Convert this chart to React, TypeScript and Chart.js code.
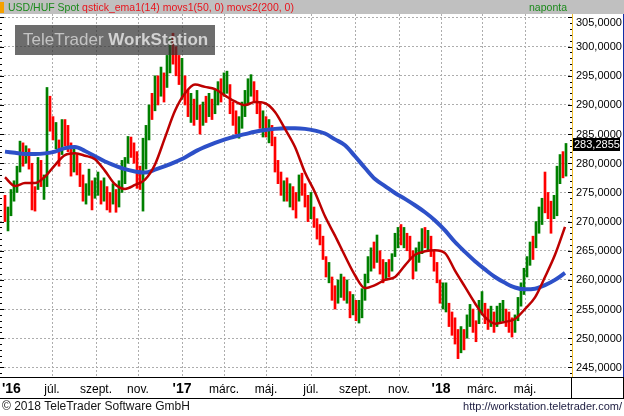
import React, { useEffect, useRef } from 'react';
import { Chart, registerables } from 'chart.js';

Chart.register(...registerables);

// ---------- data (x unit = trading day from chart start) ----------
const BAR_FIRST_DAY = 5;
const BAR_STEP = 3;

const barLow = [
  270.0, 268.4, 271.0, 273.5, 275.0, 278.5, 279.5, 280.0, 279.0, 272.0,
  271.8, 275.5, 276.0, 273.8, 276.0, 285.5, 284.0, 282.5, 279.5, 281.5,
  283.0, 282.0, 277.8, 278.5, 278.0, 276.0, 273.5, 273.0, 274.5, 272.0,
  274.0, 274.5, 273.0, 273.5, 272.0, 271.6, 273.0, 271.6, 272.5, 275.0,
  276.5, 280.0, 281.0, 280.0, 275.7, 275.5, 271.8,
  279.0, 284.0, 287.5, 289.0, 290.0, 291.5, 290.5, 293.0, 295.5, 297.0,
  295.0, 293.5, 291.0, 290.0, 288.0, 287.0, 286.5, 287.5, 285.0, 286.5,
  287.0, 288.0, 287.5, 288.5, 290.0, 290.5, 291.5, 292.0, 288.5, 286.5,
  285.0, 284.3, 286.0, 288.0, 290.0, 291.5, 290.5, 288.5, 286.0, 284.5,
  284.5, 283.5, 283.0, 278.5, 276.5, 274.5, 273.5, 273.5,
  272.5, 272.0, 270.6, 273.5, 274.5, 272.5, 270.0, 270.5, 269.0, 267.0,
  266.0, 263.5, 260.5, 259.5, 256.5, 255.0, 256.0, 257.0, 256.5, 256.0,
  253.5, 254.0, 253.0, 252.6, 253.5, 256.5, 259.5, 261.5, 262.0, 263.0,
  261.0, 259.5, 260.0, 260.5, 261.5, 264.0, 265.5, 266.0, 265.5, 265.0,
  263.5, 260.2, 261.5, 263.0, 264.5, 265.5, 265.0, 264.0, 261.5, 259.5,
  256.0, 255.0, 254.5, 252.0, 250.5, 249.0, 246.5, 247.5, 248.0, 250.0,
  252.0, 251.0, 249.4, 252.5, 254.0, 252.5, 251.5, 252.0, 251.0, 252.0,
  252.5, 253.0, 252.0, 251.0, 250.2, 251.0, 253.0, 255.5, 257.5, 260.5,
  262.5, 263.5, 265.5, 268.0, 269.5, 271.5, 270.5, 268.0, 270.5, 271.0,
  276.5, 277.5, 277.8,
];

const barHigh = [
  274.5, 272.5, 275.5, 277.0, 279.5, 283.8, 283.5, 283.0, 282.5, 280.0,
  276.0, 281.0, 280.5, 278.0, 293.0, 291.5, 288.0, 287.0, 284.0, 287.5,
  287.5, 286.5, 283.5, 282.5, 281.5, 280.0, 278.0, 276.5, 279.0, 277.0,
  277.5, 278.5, 277.0, 277.5, 276.0, 275.0, 276.5, 275.5, 277.0, 280.5,
  281.0, 284.6, 284.5, 283.5, 282.0, 279.5, 284.3,
  286.5, 290.0, 292.0, 295.0, 295.0, 296.5, 295.5, 298.5, 301.5, 302.3,
  300.0, 298.5, 298.0, 295.0, 292.5, 292.0, 291.0, 292.5, 290.0, 290.5,
  291.5, 292.0, 291.0, 292.5, 294.0, 294.5, 295.5, 295.8, 293.5, 290.5,
  289.0, 288.0, 290.5, 292.5, 294.5, 295.2, 294.0, 292.5, 290.5, 289.0,
  288.0, 287.5, 286.5, 284.5, 280.5, 278.5, 277.0, 277.5,
  276.5, 276.0, 275.0, 278.0, 278.3, 276.5, 274.5, 275.0, 272.5, 270.5,
  269.5, 267.5, 264.0, 263.0, 260.5, 259.0, 260.0, 261.0, 260.5, 260.0,
  258.0, 257.5, 256.5, 256.5, 258.5, 261.0, 264.0, 265.5, 266.5, 267.7,
  265.0, 263.5, 263.0, 263.5, 264.5, 268.0, 269.0, 269.5, 269.0, 268.0,
  267.5, 265.0, 265.5, 266.5, 268.8, 269.0, 268.5, 267.5, 265.0, 263.0,
  260.0, 259.5, 259.5, 256.0, 254.5, 253.5, 251.5, 252.0, 251.5, 254.0,
  255.8, 255.0, 253.0, 256.5, 258.0, 256.0, 255.0, 255.5, 254.5, 255.5,
  256.0, 256.5, 255.0, 254.5, 253.5, 254.0, 257.0, 259.5, 262.0, 264.0,
  266.5, 267.5, 270.0, 272.5, 274.0, 278.5, 275.0, 273.5, 274.5, 279.5,
  281.5, 282.0, 283.4,
];

// G = rising day (green), R = falling day (red)
const barDir =
  'RGGGGGRGRR' + 'RGRGGRRGRG' + 'RRRGRRRGGR' + 'GGRGRRGRGG' + 'GGRRRRG' +
  'GGRGRGRGGR' + 'RRGRRGRGRG' + 'RGRGGRGGRR' + 'RGGGGGRRRG' + 'RGRRRRGR' +
  'GRRGRRRGRR' + 'RRRGRRGGRG' + 'RGRGGGGGRG' + 'RRGRGGGRGR' + 'RRGGGRGRRR' +
  'RGGRRRRGRG' + 'GRRGGRRGRG' + 'GGRRRGGGGG' + 'GRGGGRRRGG' + 'GRG';

const lastClose = 283.2855;

const MA_FIRST_DAY = 5;
const MA_STEP = 10;

const ma50 = [
  277.6, 276.1, 276.6, 276.6, 277.7, 279.7, 281.4, 281.7, 281.3, 280.7,
  278.7, 276.4, 275.6, 276.3, 277.2, 279.8, 284.4, 289.0, 292.0, 293.5,
  293.1, 292.7, 291.6, 290.6, 290.0, 290.5, 290.3, 288.8, 285.9, 282.8,
  278.4, 275.0, 270.9, 267.6, 264.1, 260.8, 258.6, 259.1, 260.0, 260.5,
  262.5, 264.3, 264.9, 265.1, 264.6, 261.6, 258.8, 256.0, 253.6, 252.5,
  252.8, 253.3, 255.0, 257.0, 260.5, 264.3, 269.1,
];

const ma200 = [
  282.0, 281.8, 281.6, 281.6, 281.7, 282.0, 282.6, 282.8, 282.1, 281.2,
  280.3, 279.6, 279.0, 278.6, 278.4, 278.9, 279.5, 280.2, 281.0, 282.0,
  282.8, 283.5, 284.1, 284.6, 285.0, 285.4, 285.7, 285.9, 286.0, 286.0,
  285.9, 285.6, 285.1, 284.1, 283.1, 281.2, 279.2, 277.3, 276.1, 274.9,
  273.9, 272.8, 271.6, 270.2, 268.5, 266.5, 264.8, 263.2, 261.8, 260.5,
  259.5, 258.7, 258.4, 258.5, 259.1, 260.0, 261.2,
];

const monthTickDays = [52, 96, 138, 182, 224, 266, 311, 355, 399, 441, 482, 525];
const monthTickLabels = ['júl.', 'szept.', 'nov.', "'17", 'márc.', 'máj.', 'júl.', 'szept.', 'nov.', "'18", 'márc.', 'máj.'];
const firstYearLabel = "'16";

const yTickValues = [245, 250, 255, 260, 265, 270, 275, 280, 285, 290, 295, 300, 305];

const X_MIN = 0;
const X_MAX = 572;
const Y_MIN = 243.35;
const Y_MAX = 305.6;

const GREEN = '#008000';
const RED = '#ff0000';
const FONT = '"Liberation Sans", Arial, sans-serif';

const fmt = (v: number) => v.toFixed(4).replace('.', ',');

const decorPlugin = {
  id: 'decor',
  beforeDraw(chart: any) {
    const ctx = chart.ctx;
    ctx.save();
    ctx.fillStyle = '#ffffff';
    ctx.fillRect(0, 0, chart.width, chart.height);
    ctx.restore();
  },
  afterDraw(chart: any) {
    const ctx = chart.ctx as CanvasRenderingContext2D;
    const W = chart.width;
    const H = chart.height;
    const area = chart.chartArea;
    const xs = chart.scales.x;
    const ys = chart.scales.y;
    ctx.save();

    // watermark
    ctx.fillStyle = 'rgba(52,52,52,0.72)';
    ctx.fillRect(15, 25, 200, 30);
    ctx.textBaseline = 'alphabetic';
    ctx.textAlign = 'left';
    ctx.font = `17px ${FONT}`;
    ctx.fillStyle = '#c4c4c4';
    ctx.fillText('TeleTrader ', 23, 45);
    const w1 = ctx.measureText('TeleTrader ').width;
    ctx.font = `bold 17px ${FONT}`;
    ctx.fillStyle = '#d2d2d2';
    ctx.fillText('WorkStation', 23 + w1, 45);

    // header band
    ctx.fillStyle = '#c0c0c0';
    ctx.fillRect(0, 0, W, area.top);
    ctx.fillStyle = '#f5a000';
    ctx.fillRect(0, 2, 4, 11);
    ctx.font = `10.5px ${FONT}`;
    ctx.fillStyle = '#1b8a1b';
    ctx.fillText('USD/HUF Spot', 8, 11);
    const w2 = ctx.measureText('USD/HUF Spot ').width;
    ctx.fillStyle = '#e8141c';
    ctx.fillText('qstick_ema1(14) movs1(50, 0) movs2(200, 0)', 8 + w2, 11);
    ctx.fillStyle = '#1b8a1b';
    ctx.textAlign = 'center';
    ctx.fillText('naponta', 548, 11);

    // right axis panel
    ctx.fillStyle = '#ffffff';
    ctx.fillRect(area.right, area.top, W - area.right, area.bottom - area.top);
    ctx.fillStyle = '#f0c030';
    ctx.fillRect(area.right, area.top, 1, area.bottom - area.top);
    ctx.fillStyle = '#1030a8';
    ctx.fillRect(W - 1, area.top, 1, area.bottom - area.top);

    // y tick marks (every unit, longer every 5)
    ctx.fillStyle = '#000000';
    for (let v = Math.ceil(Y_MIN); v <= Math.floor(Y_MAX); v++) {
      const py = Math.round(ys.getPixelForValue(v));
      const len = v % 5 === 0 ? 4 : 2;
      ctx.fillRect(area.left, py, len, 1);
      ctx.fillRect(area.right - len, py, len, 1);
    }

    // y labels
    ctx.font = `11px ${FONT}`;
    ctx.textAlign = 'left';
    ctx.textBaseline = 'middle';
    ctx.fillStyle = '#000000';
    yTickValues.forEach((v) => {
      const py = Math.max(ys.getPixelForValue(v), area.top + 8.5);
      ctx.fillText(fmt(v), area.right + 4, py + 0.5);
    });

    // last price label
    const lp = ys.getPixelForValue(lastClose);
    ctx.fillStyle = '#000000';
    ctx.fillRect(area.right + 1, Math.round(lp) - 6, 47, 13);
    ctx.fillStyle = '#ffffff';
    ctx.fillText(fmt(lastClose), area.right + 2, lp + 1);

    // x-axis band
    ctx.fillStyle = '#ffffff';
    ctx.fillRect(0, area.bottom, W, H - area.bottom);
    ctx.fillStyle = '#000000';
    ctx.fillRect(0, area.bottom, W, 1);
    ctx.fillRect(0, area.bottom + 21, W, 1);
    ctx.fillRect(area.right - 1, area.bottom, 1, 21);
    ctx.fillRect(W - 1, area.bottom, 1, 21);

    ctx.textBaseline = 'alphabetic';
    ctx.textAlign = 'left';
    ctx.font = `bold 14px ${FONT}`;
    ctx.fillText(firstYearLabel, area.left + 2, area.bottom + 16);
    ctx.textAlign = 'center';
    monthTickDays.forEach((d, i) => {
      const lab = monthTickLabels[i];
      ctx.font = lab.startsWith("'") ? `bold 14px ${FONT}` : `12px ${FONT}`;
      ctx.fillText(lab, xs.getPixelForValue(d), area.bottom + 16);
    });

    // footer
    ctx.textAlign = 'left';
    ctx.font = `12px ${FONT}`;
    ctx.fillStyle = '#141414';
    ctx.fillText('© 2018 TeleTrader Software GmbH', 2, H - 6);
    ctx.textAlign = 'right';
    ctx.font = `11px ${FONT}`;
    ctx.fillStyle = '#1c1c40';
    ctx.fillText('http://workstation.teletrader.com/', W - 2, H - 6);

    ctx.restore();
  },
};

export default function App() {
  const ref = useRef<HTMLCanvasElement | null>(null);

  useEffect(() => {
    document.body.style.margin = '0';
    const canvas = ref.current;
    if (!canvas) return;

    const bars = barLow.map((lo, i) => ({ x: BAR_FIRST_DAY + i * BAR_STEP, y: [lo, barHigh[i]] }));
    const barColors = barDir.split('').map((c) => (c === 'G' ? GREEN : RED));
    const ma50Pts = ma50.map((v, i) => ({ x: MA_FIRST_DAY + i * MA_STEP, y: v }));
    const ma200Pts = ma200.map((v, i) => ({ x: MA_FIRST_DAY + i * MA_STEP, y: v }));

    const gridCfg = { color: '#adadad', drawTicks: false, lineWidth: 1, offset: false };
    const borderCfg = { display: false, dash: [2, 2] };

    const chart = new Chart(canvas, {
      type: 'line',
      data: {
        datasets: [
          {
            type: 'line',
            data: ma50Pts,
            borderColor: '#bd0000',
            borderWidth: 2.5,
            pointRadius: 0,
            cubicInterpolationMode: 'monotone',
            fill: false,
            order: 1,
          },
          {
            type: 'line',
            data: ma200Pts,
            borderColor: '#2d50c8',
            borderWidth: 4,
            pointRadius: 0,
            cubicInterpolationMode: 'monotone',
            fill: false,
            order: 2,
          },
          {
            type: 'bar',
            data: bars as any,
            backgroundColor: barColors,
            borderWidth: 0,
            barThickness: 2,
            grouped: false,
            order: 3,
          } as any,
        ],
      },
      options: {
        responsive: false,
        animation: false,
        devicePixelRatio: 1,
        events: [],
        layout: { padding: { left: 0, right: 52, top: 14, bottom: 39 } },
        plugins: { legend: { display: false }, tooltip: { enabled: false } },
        scales: {
          x: {
            type: 'linear',
            min: X_MIN,
            max: X_MAX,
            offset: false,
            afterFit: (s: any) => { s.height = 0; },
            afterBuildTicks: (s: any) => { s.ticks = monthTickDays.map((v) => ({ value: v })); },
            ticks: { display: false },
            grid: gridCfg,
            border: borderCfg,
          },
          y: {
            type: 'linear',
            position: 'right',
            min: Y_MIN,
            max: Y_MAX,
            afterFit: (s: any) => { s.width = 0; },
            afterBuildTicks: (s: any) => { s.ticks = yTickValues.map((v) => ({ value: v })); },
            ticks: { display: false },
            grid: gridCfg,
            border: borderCfg,
          },
        },
      } as any,
      plugins: [decorPlugin],
    });

    return () => chart.destroy();
  }, []);

  return (
    <div style={{ position: 'fixed', left: 0, top: 0, width: 624, height: 416 }}>
      <canvas ref={ref} width={624} height={416} style={{ display: 'block' }} />
    </div>
  );
}
